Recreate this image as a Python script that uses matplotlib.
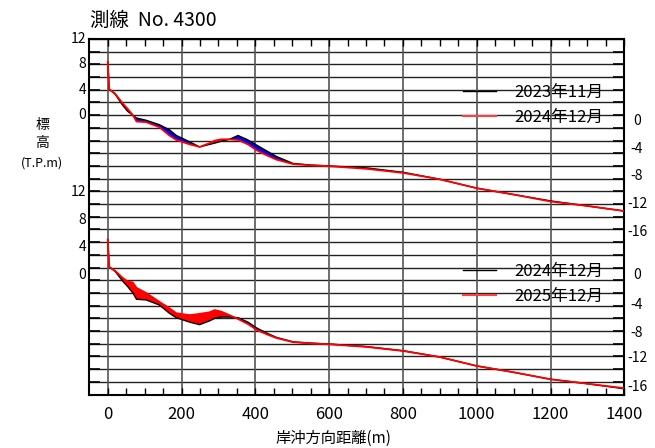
"""
Beach profile comparison chart (測線 No.4300) — two surveys stacked in one frame.
"""
import matplotlib
matplotlib.use("Agg")
import matplotlib.pyplot as plt
import matplotlib.transforms as mtransforms
from matplotlib.lines import Line2D
import numpy as np

plt.rcParams["font.family"] = ["Noto Sans CJK JP", "DejaVu Sans"]

# ── data ────────────────────────────────────────────────────────────────
dist = [0, 4, 20, 40, 54, 68, 78, 104, 140, 167, 186, 222, 249, 276, 290, 308,
        330, 353, 380, 403, 430, 457, 502, 550, 602, 701, 801, 900, 1000,
        1100, 1200, 1300, 1400]

elev_2023_11 = [8.4, 4.1, 3.3, 1.6, 0.6, 0.0, -0.45, -0.8, -1.5, -2.3, -3.2,
                -4.2, -5.0, -4.6, -4.4, -4.1, -3.8, -3.2, -3.9, -4.7, -5.6,
                -6.5, -7.6, -7.85, -8.0, -8.3, -9.0, -10.1, -11.5, -12.5,
                -13.5, -14.3, -15.1]

elev_2024_12 = [8.4, 4.1, 3.4, 1.9, 1.0, 0.0, -1.0, -1.1, -1.9, -3.2, -3.9,
                -4.6, -5.0, -4.4, -4.0, -3.8, -3.8, -3.9, -4.6, -5.5, -6.3,
                -7.0, -7.7, -7.9, -8.05, -8.45, -9.1, -10.1, -11.5, -12.5,
                -13.6, -14.3, -15.1]

elev_2025_12 = [8.4, 4.1, 3.5, 2.4, 1.8, 1.65, 0.8, 0.0, -1.4, -2.4, -3.2,
                -3.5, -3.3, -3.05, -2.7, -2.95, -3.5, -4.1, -4.9, -5.8, -6.5,
                -7.1, -7.75, -7.95, -8.1, -8.5, -9.15, -10.1, -11.5, -12.5,
                -13.6, -14.3, -15.0]

x_ticks = [0, 200, 400, 600, 800, 1000, 1200, 1400]

# axis labels as printed on the original (value, label)
left_labels_upper = [(12, "12"), (8, "8"), (4, "4"), (0, "0")]
left_labels_lower = [(-12.05, "12"), (-16.5, "8"), (-20.7, "4"), (-25.2, "0")]
right_labels_upper = [(-0.9, "0"), (-5.3, "-4"), (-9.6, "-8"), (-14.0, "-12"), (-18.4, "-16")]
right_labels_lower = [(-25.2, "0"), (-29.9, "-4"), (-34.3, "-8"), (-38.2, "-12"), (-42.8, "-16")]

LOWER_OFFSET = -28.0   # vertical shift of the second panel
RED, BLUE, BLACK = "#ff0000", "#0000ff", "#000000"


def draw_pair(ax, x, old, new, offset):
    old = np.asarray(old) + offset
    new = np.asarray(new) + offset
    ax.fill_between(x, old, new, where=new >= old, interpolate=True,
                    color=RED, linewidth=0, zorder=3)
    ax.fill_between(x, old, new, where=new < old, interpolate=True,
                    color=BLUE, linewidth=0, zorder=3)
    l_old, = ax.plot(x, old, color=BLACK, lw=1.0, zorder=4)
    l_new, = ax.plot(x, new, color=RED, lw=1.3, zorder=5)
    return l_old, l_new


fig = plt.figure(figsize=(6.55, 4.48), dpi=100)
ax = fig.add_axes([89.3 / 655, 1 - 394.5 / 448, 535 / 655, 355.5 / 448])
ax.set_xlim(-50, 1400)
ax.set_ylim(-44, 12)

# grid
for gy in np.arange(-44, 12.1, 2):
    ax.axhline(gy, color="#222222", lw=1.0, zorder=1)
for gx in x_ticks:
    ax.axvline(gx, color="#555555", lw=1.2, zorder=1)

l1, l2 = draw_pair(ax, dist, elev_2023_11, elev_2024_12, 0.0)
l3, l4 = draw_pair(ax, dist, elev_2024_12, elev_2025_12, LOWER_OFFSET)

# ticks
ax.set_xticks(x_ticks)
ax.set_xticklabels([str(v) for v in x_ticks], fontsize=12)
ax.set_xticks(np.arange(0, 1401, 50), minor=True)
ax.tick_params(axis="x", which="both", direction="in", top=True, length=5,
               width=1, pad=8)
ax.set_yticks(np.arange(-44, 12.1, 2))
ax.set_yticklabels([])
ax.tick_params(axis="y", direction="in", length=8, width=1.2, left=True, right=True)
for s in ax.spines.values():
    s.set_linewidth(1.5)

trans_l = mtransforms.blended_transform_factory(fig.transFigure, ax.transData)
for y, t in left_labels_upper + left_labels_lower:
    ax.text(86 / 655, y, t, transform=trans_l, ha="right", va="center", fontsize=10)
for y, t in right_labels_upper + right_labels_lower:
    ax.text(637 / 655, y, t, transform=trans_l, ha="center", va="center", fontsize=10)

# titles / axis labels
fig.text(90 / 655, 1 - 20 / 448, "測線  No. 4300", fontsize=14, ha="left", va="center")
fig.text(42 / 655, 1 - 125 / 448, "標", fontsize=10, ha="center", va="center")
fig.text(42 / 655, 1 - 143 / 448, "高", fontsize=10, ha="center", va="center")
fig.text(42 / 655, 1 - 163 / 448, "(T.P.m)", fontsize=9, ha="center", va="center")
fig.text(333 / 655, 1 - 438 / 448, "岸沖方向距離(m)", fontsize=11, ha="center", va="center")

# legends
leg_kw = dict(frameon=False, fontsize=12, handlelength=2.0, handletextpad=1.1,
              labelspacing=0.45, borderpad=0, borderaxespad=0, loc="upper left")
h_black = Line2D([], [], color=BLACK, lw=1.0)
h_red = Line2D([], [], color="#ff4040", lw=1.5)
leg1 = ax.legend([h_black, h_red], ["2023年11月", "2024年12月"],
                 bbox_to_anchor=(463 / 655, 1 - 84 / 448),
                 bbox_transform=fig.transFigure, **leg_kw)
ax.add_artist(leg1)
ax.legend([h_black, h_red], ["2024年12月", "2025年12月"],
          bbox_to_anchor=(463 / 655, 1 - 263 / 448),
          bbox_transform=fig.transFigure, **leg_kw)

fig.savefig("out.png", dpi=100)
